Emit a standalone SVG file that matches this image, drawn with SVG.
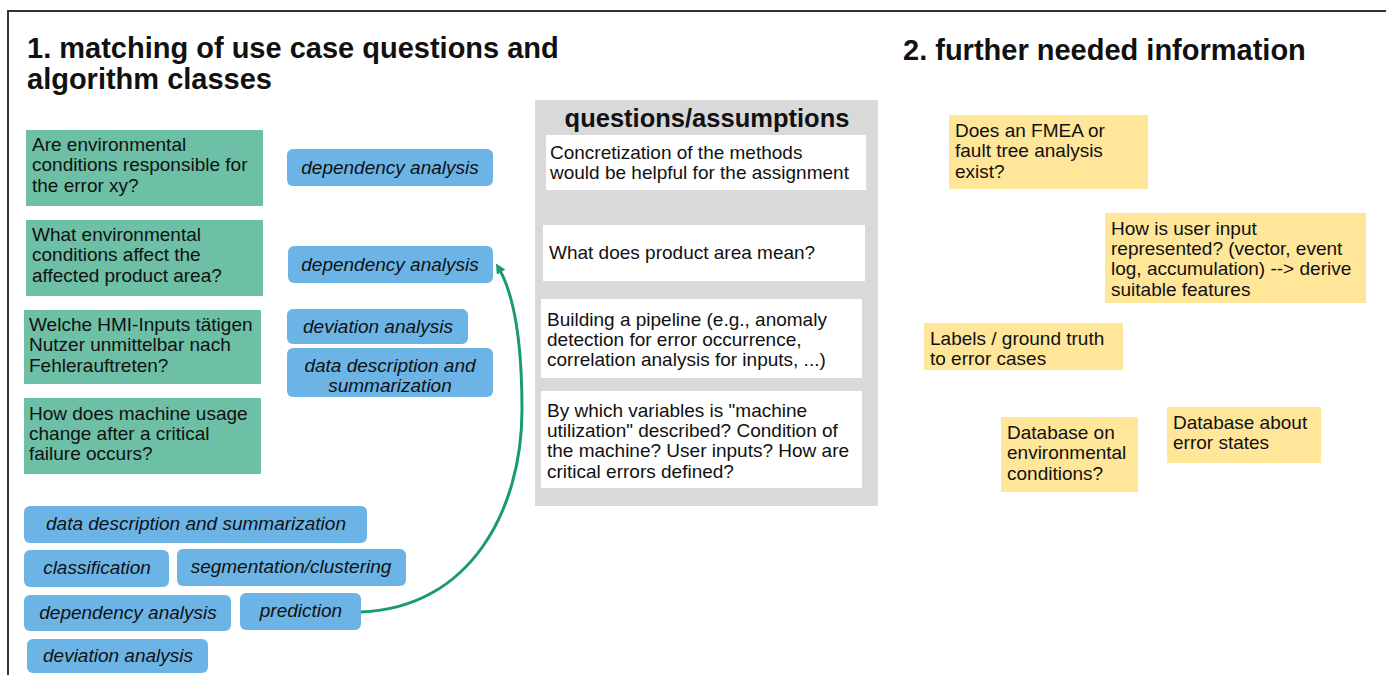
<svg xmlns="http://www.w3.org/2000/svg" width="1386" height="675" viewBox="0 0 1386 675">
<defs>
<marker id="ah" markerWidth="10" markerHeight="10" refX="6" refY="5" orient="auto" markerUnits="userSpaceOnUse">
<path d="M0,0 L10,5 L0,10 Z" fill="#1A9A72"/>
</marker>
<style>
text{font-family:"Liberation Sans",Arial,sans-serif;fill:#111}
.h{font-size:29px;font-weight:bold}
.q{fill:#6DBFA5}
.a{fill:#6CB4E6}
.w{fill:#fff}
.y{fill:#FFE699}
.t{font-size:19px}
.i{font-size:19px;font-style:italic}
.c{text-anchor:middle}
</style>
</defs>
<rect width="1386" height="675" fill="#fff"/>
<path d="M8,675 V11 H1386" fill="none" stroke="#333" stroke-width="2"/>
<text class="h" x="27" y="58">1. matching of use case questions and</text>
<text class="h" x="27" y="89">algorithm classes</text>
<text class="h" x="903" y="60">2. further needed information</text>

<g id="q1"><rect class="q" x="26" y="130" width="237" height="76"/><text class="t" x="32" y="151">Are environmental</text><text class="t" x="32" y="171">conditions responsible for</text><text class="t" x="32" y="192">the error xy?</text></g>
<g id="q2"><rect class="q" x="26" y="220" width="237" height="76"/><text class="t" x="32" y="241">What environmental</text><text class="t" x="32" y="261">conditions affect the</text><text class="t" x="32" y="282">affected product area?</text></g>
<g id="q3"><rect class="q" x="24" y="310" width="237" height="74"/><text class="t" x="29" y="331">Welche HMI-Inputs tätigen</text><text class="t" x="29" y="351">Nutzer unmittelbar nach</text><text class="t" x="29" y="372">Fehlerauftreten?</text></g>
<g id="q4"><rect class="q" x="24" y="398" width="237" height="76"/><text class="t" x="29" y="420">How does machine usage</text><text class="t" x="29" y="440">change after a critical</text><text class="t" x="29" y="460">failure occurs?</text></g>

<g id="a1"><rect class="a" x="287" y="149" width="206" height="37" rx="6"/><text class="i c" x="390" y="174">dependency analysis</text></g>
<g id="a2"><rect class="a" x="288" y="246" width="205" height="37" rx="6"/><text class="i c" x="390" y="271">dependency analysis</text></g>
<g id="a3"><rect class="a" x="287" y="309" width="181" height="35" rx="6"/><text class="i c" x="378" y="333">deviation analysis</text></g>
<g id="a4"><rect class="a" x="287" y="348" width="206" height="49" rx="6"/><text class="i c" x="390" y="372">data description and</text><text class="i c" x="390" y="392">summarization</text></g>

<g id="b1"><rect class="a" x="24" y="506" width="343" height="37" rx="6"/><text class="i c" x="196" y="530">data description and summarization</text></g>
<g id="b2"><rect class="a" x="24" y="550" width="145" height="37" rx="6"/><text class="i c" x="97" y="574">classification</text></g>
<g id="b3"><rect class="a" x="177" y="549" width="229" height="37" rx="6"/><text class="i c" x="291" y="573">segmentation/clustering</text></g>
<g id="b4"><rect class="a" x="24" y="595" width="207" height="36" rx="6"/><text class="i c" x="128" y="619">dependency analysis</text></g>
<g id="b5"><rect class="a" x="240" y="593" width="121" height="37" rx="6"/><text class="i c" x="301" y="617">prediction</text></g>
<g id="b6"><rect class="a" x="27" y="639" width="181" height="34" rx="6"/><text class="i c" x="118" y="662">deviation analysis</text></g>

<g id="panel">
<rect x="535" y="100" width="343" height="406" fill="#D9D9D9"/>
<text class="c" x="707" y="127" style="font-size:25.5px;font-weight:bold">questions/assumptions</text>
</g>
<g id="p1"><rect class="w" x="546" y="135" width="320" height="55"/><text class="t" x="550" y="159">Concretization of the methods</text><text class="t" x="550" y="179">would be helpful for the assignment</text></g>
<g id="p2"><rect class="w" x="543" y="225" width="322" height="56"/><text class="t" x="549" y="259">What does product area mean?</text></g>
<g id="p3"><rect class="w" x="541" y="299" width="321" height="79"/><text class="t" x="547" y="326">Building a pipeline (e.g., anomaly</text><text class="t" x="547" y="346">detection for error occurrence,</text><text class="t" x="547" y="366">correlation analysis for inputs, ...)</text></g>
<g id="p4"><rect class="w" x="541" y="391" width="321" height="97"/><text class="t" x="547" y="417">By which variables is "machine</text><text class="t" x="547" y="437">utilization" described? Condition of</text><text class="t" x="547" y="457">the machine? User inputs? How are</text><text class="t" x="547" y="478">critical errors defined?</text></g>

<g id="y1"><rect class="y" x="949" y="115" width="199" height="74"/><text class="t" x="955" y="137">Does an FMEA or</text><text class="t" x="955" y="157">fault tree analysis</text><text class="t" x="955" y="178">exist?</text></g>
<g id="y2"><rect class="y" x="1105" y="213" width="261" height="90"/><text class="t" x="1111" y="235">How is user input</text><text class="t" x="1111" y="255">represented? (vector, event</text><text class="t" x="1111" y="275">log, accumulation) --&gt; derive</text><text class="t" x="1111" y="296">suitable features</text></g>
<g id="y3"><rect class="y" x="924" y="323" width="199" height="47"/><text class="t" x="930" y="345">Labels / ground truth</text><text class="t" x="930" y="365">to error cases</text></g>
<g id="y4"><rect class="y" x="1001" y="417" width="137" height="75"/><text class="t" x="1007" y="439">Database on</text><text class="t" x="1007" y="459">environmental</text><text class="t" x="1007" y="480">conditions?</text></g>
<g id="y5"><rect class="y" x="1167" y="407" width="154" height="56"/><text class="t" x="1173" y="429">Database about</text><text class="t" x="1173" y="449">error states</text></g>

<g id="connectors">
<path d="M361,612 C470,608 522,510 522,410 C522,330 512,290 498,267" fill="none" stroke="#1A9A72" stroke-width="3" marker-end="url(#ah)"/>
</g>
</svg>
